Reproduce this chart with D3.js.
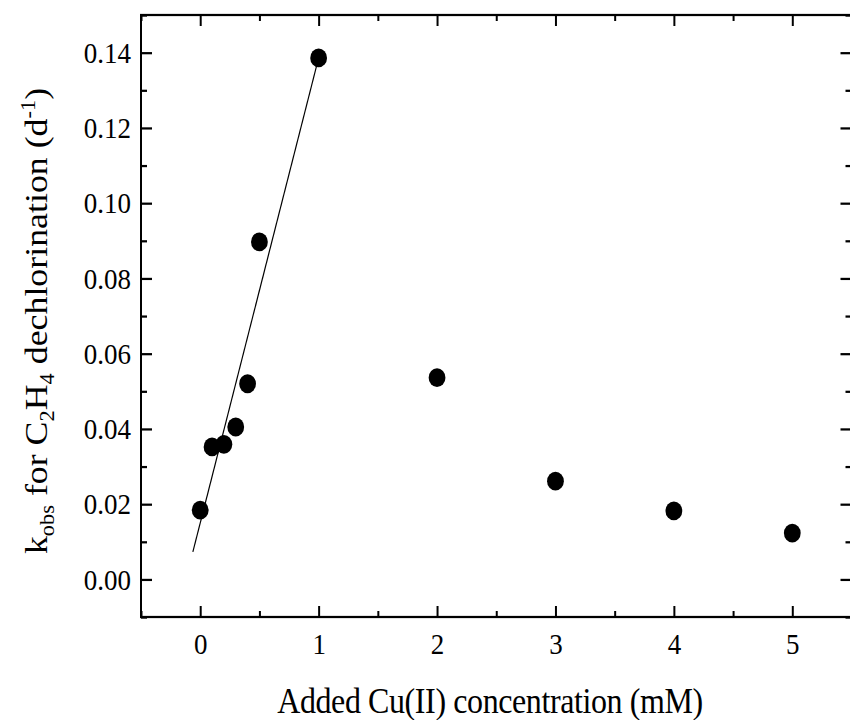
<!DOCTYPE html>
<html>
<head>
<meta charset="utf-8">
<script src="https://cdn.jsdelivr.net/npm/d3@7"></script>
<style>
  html, body { margin: 0; padding: 0; background: #fff; }
  svg { display: block; }
  text { font-family: "Liberation Serif", "Times New Roman", serif; fill: #000; }
</style>
</head>
<body>
<svg id="chart"></svg>
<script>
// added Cu(II) concentration (mM) and observed rate constant (1/d)
var cuConc = [0, 0.1, 0.2, 0.3, 0.4, 0.5, 1, 2, 3, 4, 5];
var kObs = [0.0184, 0.0352, 0.0359, 0.0405, 0.0520, 0.0897, 0.1386, 0.0536, 0.0261, 0.0182, 0.0123];

// linear fit over the low-concentration points (end points)
var fitX = [-0.062, 1.0];
var fitY = [0.0073, 0.1386];

var xTicks = [0, 1, 2, 3, 4, 5];
var xMinor = [-0.5, 0.5, 1.5, 2.5, 3.5, 4.5, 5.5];
var yTicks = [0.00, 0.02, 0.04, 0.06, 0.08, 0.10, 0.12, 0.14];
var yMinor = [-0.01, 0.01, 0.03, 0.05, 0.07, 0.09, 0.11, 0.13, 0.15];

// the original figure is stretched vertically, so draw in a squashed box and stretch it back
var W = 850, H = 720, stretch = 1.12;
var h = H / stretch;

var svg = d3.select("#chart")
  .attr("width", W)
  .attr("height", H)
  .attr("viewBox", "0 0 " + W + " " + h)
  .attr("preserveAspectRatio", "none");

var plotLeft = 141, plotRight = 851.5, plotTop = 15 / stretch, plotBottom = 617 / stretch;

var x = d3.scaleLinear().domain([-0.5, 5.5]).range([plotLeft, plotRight]);
var y = d3.scaleLinear().domain([-0.01, 0.15]).range([plotBottom, plotTop]);

var majH = 11, minH = 6;                     // horizontal tick lengths (left/right)
var majV = 11 / stretch, minV = 6 / stretch; // vertical tick lengths (top/bottom)

function styleAxis(g) {
  g.select(".domain").remove();
  g.selectAll(".tick line").attr("stroke", "#000").attr("stroke-width", 2);
}

// bottom axis with labels
svg.append("g")
  .attr("transform", "translate(0," + plotBottom + ")")
  .call(d3.axisBottom(x).tickValues(xTicks).tickSize(-majV).tickSizeOuter(0)
    .tickPadding(14).tickFormat(d3.format("d")))
  .call(styleAxis)
  .selectAll("text")
  .attr("font-size", 27);

svg.append("g")
  .attr("transform", "translate(0," + plotBottom + ")")
  .call(d3.axisBottom(x).tickValues(xMinor).tickSize(-minV).tickSizeOuter(0).tickFormat(""))
  .call(styleAxis);

// top axis, ticks only
svg.append("g")
  .attr("transform", "translate(0," + plotTop + ")")
  .call(d3.axisTop(x).tickValues(xTicks).tickSize(-majV).tickSizeOuter(0).tickFormat(""))
  .call(styleAxis);
svg.append("g")
  .attr("transform", "translate(0," + plotTop + ")")
  .call(d3.axisTop(x).tickValues(xMinor).tickSize(-minV).tickSizeOuter(0).tickFormat(""))
  .call(styleAxis);

// left axis with labels
svg.append("g")
  .attr("transform", "translate(" + plotLeft + ",0)")
  .call(d3.axisLeft(y).tickValues(yTicks).tickSize(-majH).tickSizeOuter(0)
    .tickPadding(10).tickFormat(d3.format(".2f")))
  .call(styleAxis)
  .selectAll("text")
  .attr("font-size", 27);
svg.append("g")
  .attr("transform", "translate(" + plotLeft + ",0)")
  .call(d3.axisLeft(y).tickValues(yMinor).tickSize(-minH).tickSizeOuter(0).tickFormat(""))
  .call(styleAxis);

// right axis, ticks only
svg.append("g")
  .attr("transform", "translate(" + plotRight + ",0)")
  .call(d3.axisRight(y).tickValues(yTicks).tickSize(-majH).tickSizeOuter(0).tickFormat(""))
  .call(styleAxis);
svg.append("g")
  .attr("transform", "translate(" + plotRight + ",0)")
  .call(d3.axisRight(y).tickValues(yMinor).tickSize(-minH).tickSizeOuter(0).tickFormat(""))
  .call(styleAxis);

// frame
svg.append("rect")
  .attr("x", plotLeft)
  .attr("y", plotTop)
  .attr("width", plotRight - plotLeft)
  .attr("height", plotBottom - plotTop)
  .attr("fill", "none")
  .attr("stroke", "#000")
  .attr("stroke-width", 2);

// fit line
svg.append("path")
  .datum(d3.zip(fitX, fitY))
  .attr("fill", "none")
  .attr("stroke", "#000")
  .attr("stroke-width", 1.2)
  .attr("d", d3.line()
    .x(function(d) { return x(d[0]); })
    .y(function(d) { return y(d[1]); }));

// points
svg.append("g")
  .selectAll("circle")
  .data(d3.zip(cuConc, kObs))
  .enter().append("circle")
  .attr("cx", function(d) { return x(d[0]); })
  .attr("cy", function(d) { return y(d[1]); })
  .attr("r", 8.4)
  .attr("fill", "#000");

// x title
svg.append("text")
  .attr("x", 490)
  .attr("y", 713 / stretch)
  .attr("text-anchor", "middle")
  .attr("font-size", 32)
  .attr("letter-spacing", -0.4)
  .text("Added Cu(II) concentration (mM)");

// y title with sub/superscripts
var yt = svg.append("text")
  .attr("transform", "translate(47," + (321 / stretch) + ") rotate(-90)")
  .attr("text-anchor", "middle")
  .attr("font-size", 32);
yt.append("tspan").text("k");
yt.append("tspan").attr("font-size", 20).attr("dy", 7).text("obs");
yt.append("tspan").attr("dy", -7).text(" for C");
yt.append("tspan").attr("font-size", 20).attr("dy", 7).text("2");
yt.append("tspan").attr("dy", -7).text("H");
yt.append("tspan").attr("font-size", 20).attr("dy", 7).text("4");
yt.append("tspan").attr("dy", -7).text(" dechlorination (d");
yt.append("tspan").attr("font-size", 20).attr("dy", -12).text("-1");
yt.append("tspan").attr("dy", 12).text(")");
</script>
</body>
</html>
